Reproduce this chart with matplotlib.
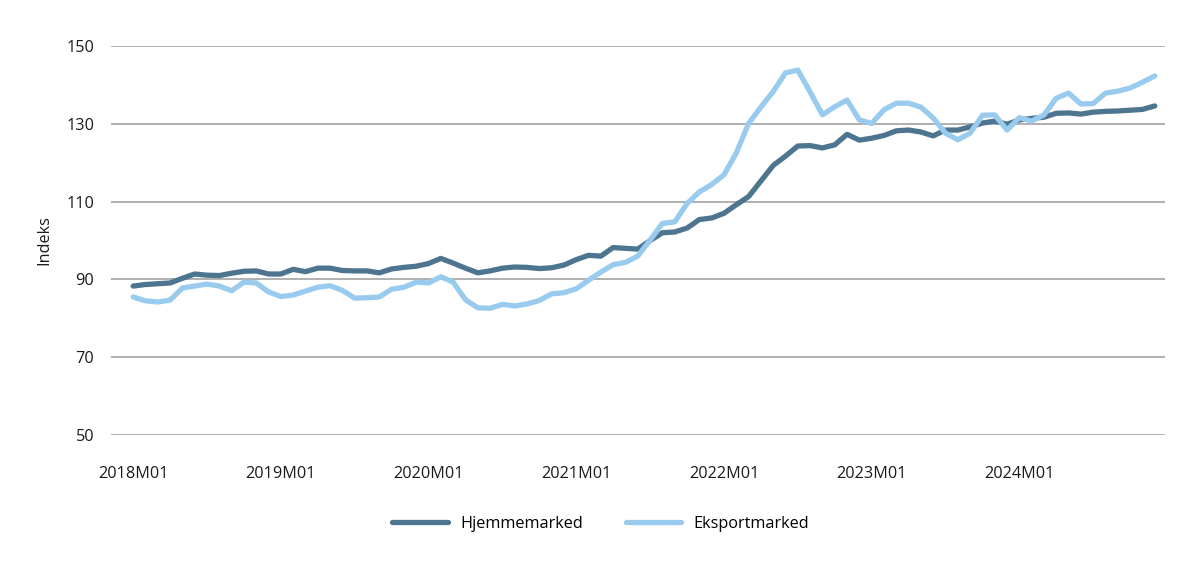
import matplotlib.pyplot as plt
import numpy as np

plt.rcParams['font.family'] = ['Open Sans', 'DejaVu Sans']

# monthly index values, 2018M01 - 2024M12
hjemme = [
    88.3, 88.7, 88.9, 89.1, 90.3, 91.4, 91.1, 91.0, 91.6, 92.1, 92.2, 91.4,
    91.4, 92.6, 92.0, 92.9, 92.9, 92.3, 92.2, 92.2, 91.7, 92.7, 93.1, 93.4,
    94.1, 95.4, 94.2, 92.9, 91.7, 92.2, 92.9, 93.2, 93.1, 92.8, 93.0, 93.7,
    95.1, 96.2, 96.0, 98.2, 98.0, 97.8, 100.0, 102.0, 102.2, 103.2, 105.4, 105.8,
    107.0, 109.2, 111.3, 115.3, 119.3, 121.7, 124.3, 124.4, 123.8, 124.6, 127.3, 125.8,
    126.3, 127.0, 128.2, 128.4, 127.9, 126.9, 128.4, 128.4, 129.2, 130.2, 130.7, 129.9,
    131.0, 131.4, 131.7, 132.7, 132.8, 132.5, 133.0, 133.2, 133.3, 133.5, 133.7, 134.6,
]
eksport = [
    85.5, 84.5, 84.2, 84.7, 87.8, 88.3, 88.8, 88.3, 87.1, 89.3, 89.1, 86.8,
    85.6, 86.0, 87.0, 88.0, 88.4, 87.2, 85.2, 85.3, 85.5, 87.5, 88.0, 89.3,
    89.1, 90.7, 89.3, 84.8, 82.7, 82.6, 83.6, 83.2, 83.7, 84.6, 86.3, 86.6,
    87.6, 89.8, 91.9, 93.8, 94.4, 96.0, 100.1, 104.4, 104.8, 109.5, 112.5, 114.4,
    116.9, 122.5, 130.1, 134.3, 138.3, 143.1, 143.8, 138.2, 132.3, 134.4, 136.1, 131.0,
    130.1, 133.6, 135.3, 135.3, 134.3, 131.5, 127.6, 125.9, 127.6, 132.2, 132.3, 128.4,
    131.6, 130.7, 132.3, 136.6, 137.9, 135.1, 135.2, 137.9, 138.4, 139.2, 140.7, 142.3,
]
tick_labels = ['2018M01', '2019M01', '2020M01', '2021M01', '2022M01', '2023M01', '2024M01']
y_ticks = [50, 70, 90, 110, 130, 150]

x = np.arange(len(hjemme))

fig = plt.figure(figsize=(12, 5.68), dpi=100)
ax = fig.add_axes([0.0925, 0.234, 0.878, 0.685])

ax.plot(x, hjemme, color='#4E7590', linewidth=3.8, solid_capstyle='round',
        solid_joinstyle='round', label='Hjemmemarked', zorder=3)
ax.plot(x, eksport, color='#99CBEE', linewidth=3.8, solid_capstyle='round',
        solid_joinstyle='round', label='Eksportmarked', zorder=3)

ax.set_ylim(50, 150)
ax.set_xlim(-1.8, 83.8)
ax.set_yticks(y_ticks)
ax.set_xticks(np.arange(0, 84, 12))
ax.set_xticklabels(tick_labels)
ax.tick_params(axis='both', length=0, labelsize=11.7, colors='#1a1a1a')
ax.tick_params(axis='x', pad=22)
ax.tick_params(axis='y', pad=12)
ax.grid(axis='y', color='#9a9a9a', linewidth=1.1, zorder=0)
for s in ax.spines.values():
    s.set_visible(False)

ax.set_ylabel('Indeks', fontsize=11.7, color='#1a1a1a', labelpad=10)

ax.legend(loc='upper center', bbox_to_anchor=(0.465, -0.17), ncol=2, frameon=False,
          fontsize=11.7, handlelength=3.4, columnspacing=2.6, handletextpad=0.8)

fig.savefig('out.png', dpi=100)
